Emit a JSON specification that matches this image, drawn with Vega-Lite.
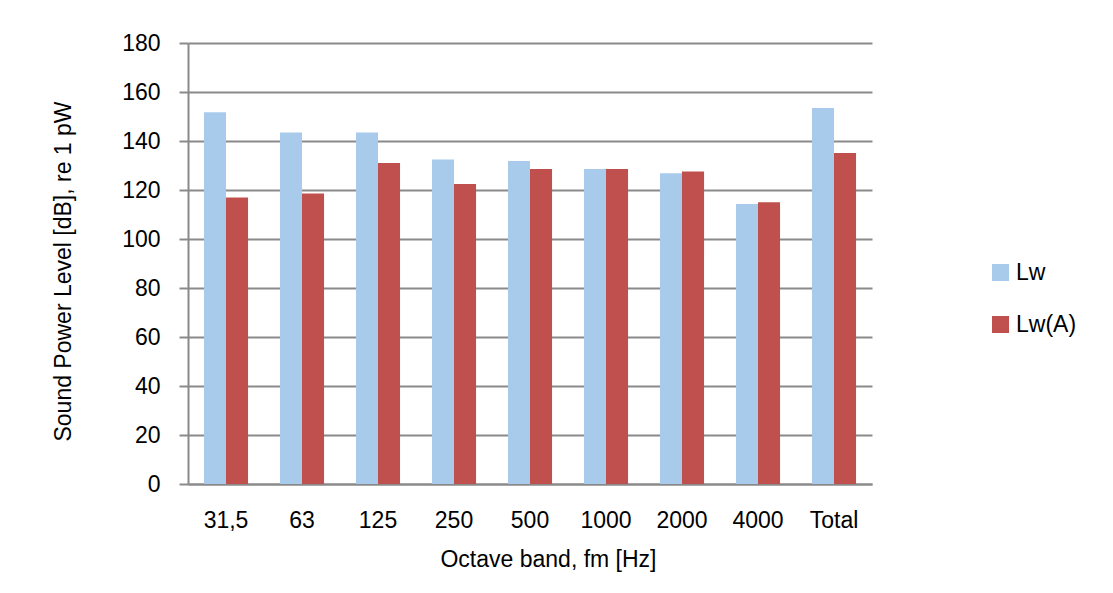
{
  "$schema": "https://vega.github.io/schema/vega-lite/v6.json",
  "width": 684,
  "height": 441,
  "autosize": "none",
  "padding": {"left": 188, "top": 43, "right": 241, "bottom": 109},
  "background": "white",
  "config": {
    "view": {"stroke": null},
    "font": "Liberation Sans",
    "axis": {"labelFont": "Liberation Sans", "titleFont": "Liberation Sans", "labelColor": "#000000", "titleColor": "#000000", "titleFontWeight": "normal", "labelFontSize": 23, "titleFontSize": 23}
  },
  "data": {
    "values": [
      {"band": "31,5", "series": "Lw", "value": 151.7},
      {"band": "31,5", "series": "Lw(A)", "value": 116.9},
      {"band": "63", "series": "Lw", "value": 143.5},
      {"band": "63", "series": "Lw(A)", "value": 118.6},
      {"band": "125", "series": "Lw", "value": 143.5},
      {"band": "125", "series": "Lw(A)", "value": 131.0},
      {"band": "250", "series": "Lw", "value": 132.5},
      {"band": "250", "series": "Lw(A)", "value": 122.4},
      {"band": "500", "series": "Lw", "value": 131.8},
      {"band": "500", "series": "Lw(A)", "value": 128.6},
      {"band": "1000", "series": "Lw", "value": 128.6},
      {"band": "1000", "series": "Lw(A)", "value": 128.6},
      {"band": "2000", "series": "Lw", "value": 126.8},
      {"band": "2000", "series": "Lw(A)", "value": 127.6},
      {"band": "4000", "series": "Lw", "value": 114.3},
      {"band": "4000", "series": "Lw(A)", "value": 115.0},
      {"band": "Total", "series": "Lw", "value": 153.5},
      {"band": "Total", "series": "Lw(A)", "value": 135.1}
    ]
  },
  "mark": {"type": "bar"},
  "encoding": {
    "x": {
      "field": "band", "type": "nominal", "sort": null,
      "scale": {"paddingInner": 0.42, "paddingOuter": 0.21},
      "axis": {
        "title": "Octave band, fm [Hz]",
        "labelAngle": 0, "ticks": false, "labelPadding": 25,
        "domainColor": "#8a8a8a", "domainWidth": 2,
        "titleX": 360, "titleY": 82, "titleBaseline": "alphabetic", "titleAnchor": "start", "titleAlign": "center"
      }
    },
    "xOffset": {"field": "series", "type": "nominal", "scale": {"paddingInner": 0, "paddingOuter": 0}},
    "y": {
      "field": "value", "type": "quantitative",
      "scale": {"domain": [0, 180], "nice": false},
      "axis": {
        "title": "Sound Power Level [dB], re 1 pW",
        "values": [0, 20, 40, 60, 80, 100, 120, 140, 160, 180],
        "tickSize": 9, "tickColor": "#8a8a8a", "tickWidth": 2,
        "labelPadding": 19,
        "domainColor": "#8a8a8a", "domainWidth": 2,
        "gridColor": "#8a8a8a", "gridWidth": 2,
        "titleX": -125, "titleY": 228, "titleBaseline": "middle", "titleAlign": "center", "titleAngle": -90
      }
    },
    "color": {
      "field": "series", "type": "nominal",
      "scale": {"domain": ["Lw", "Lw(A)"], "range": ["#A8CBEC", "#C0504D"]},
      "legend": {
        "title": null, "orient": "none", "legendX": 801, "legendY": 218,
        "symbolType": "square", "symbolSize": 289, "symbolStrokeWidth": 0,
        "labelFontSize": 23, "labelFont": "Liberation Sans", "labelColor": "#000000",
        "labelOffset": 4, "rowPadding": 28, "padding": 0
      }
    }
  }
}
